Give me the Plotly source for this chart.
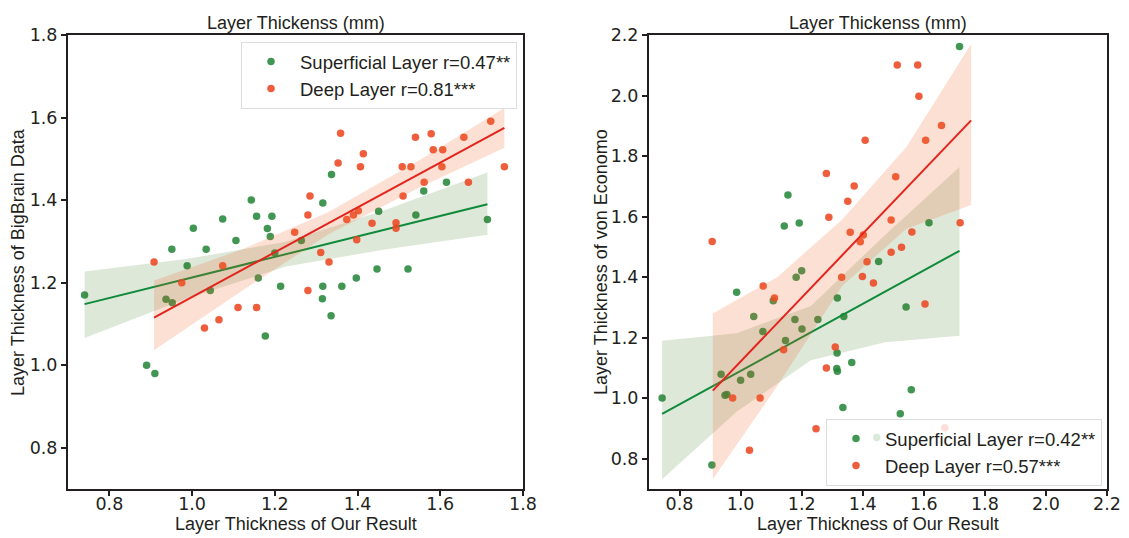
import plotly.graph_objects as go

# ---------------- data ----------------
L_sup_x = [0.74, 0.89, 0.91, 0.937, 0.951, 0.952, 0.988, 1.003, 1.034, 1.044, 1.074, 1.106,
           1.143, 1.156, 1.16, 1.177, 1.182, 1.189, 1.193, 1.2, 1.214, 1.264, 1.315, 1.316,
           1.316, 1.336, 1.337, 1.362, 1.397, 1.447, 1.451, 1.522, 1.541, 1.56, 1.615, 1.714]
L_sup_y = [1.17, 1.00, 0.98, 1.16, 1.281, 1.151, 1.241, 1.332, 1.281, 1.181, 1.354, 1.302,
           1.40, 1.361, 1.211, 1.071, 1.331, 1.312, 1.361, 1.272, 1.191, 1.302, 1.161, 1.191,
           1.393, 1.12, 1.462, 1.191, 1.211, 1.233, 1.373, 1.233, 1.364, 1.422, 1.443, 1.353]

L_deep_x = [0.908, 0.975, 1.03, 1.065, 1.074, 1.111, 1.156, 1.248, 1.28, 1.28, 1.285, 1.311,
            1.331, 1.353, 1.359, 1.374, 1.39, 1.398, 1.402, 1.407, 1.414, 1.435, 1.493, 1.493,
            1.508, 1.51, 1.529, 1.54, 1.561, 1.578, 1.583, 1.604, 1.606, 1.657, 1.668, 1.722, 1.755]
L_deep_y = [1.25, 1.20, 1.09, 1.11, 1.241, 1.14, 1.14, 1.322, 1.181, 1.364, 1.41, 1.273,
            1.25, 1.49, 1.562, 1.353, 1.364, 1.304, 1.374, 1.481, 1.512, 1.344, 1.345, 1.332,
            1.481, 1.41, 1.481, 1.552, 1.443, 1.561, 1.522, 1.481, 1.522, 1.552, 1.443, 1.591, 1.481]

R_sup_x = [0.743, 0.906, 0.936, 0.949, 0.955, 0.987, 1.0, 1.033, 1.043, 1.073, 1.107, 1.143,
           1.147, 1.155, 1.178, 1.182, 1.192, 1.20, 1.201, 1.253, 1.315, 1.316, 1.317, 1.317,
           1.335, 1.338, 1.364, 1.446, 1.452, 1.523, 1.542, 1.559, 1.617, 1.717]
R_sup_y = [1.001, 0.779, 1.079, 1.01, 1.012, 1.35, 1.059, 1.079, 1.27, 1.22, 1.322, 1.569,
           1.191, 1.671, 1.26, 1.40, 1.579, 1.421, 1.229, 1.26, 1.098, 1.149, 1.089, 1.331,
           0.969, 1.27, 1.118, 0.870, 1.452, 0.949, 1.301, 1.028, 1.58, 2.162]

R_deep_x = [0.907, 0.974, 1.029, 1.064, 1.074, 1.111, 1.141, 1.247, 1.281, 1.281, 1.289, 1.31,
            1.331, 1.351, 1.359, 1.372, 1.392, 1.399, 1.402, 1.408, 1.414, 1.435, 1.493, 1.493,
            1.508, 1.513, 1.527, 1.561, 1.58, 1.584, 1.604, 1.606, 1.658, 1.669, 1.719]
R_deep_y = [1.518, 1.001, 0.828, 1.001, 1.371, 1.331, 1.16, 0.899, 1.10, 1.742, 1.598, 1.169,
            1.40, 1.651, 1.548, 1.701, 1.517, 1.402, 1.539, 1.852, 1.451, 1.381, 1.589, 1.482,
            1.732, 2.101, 1.499, 1.549, 2.101, 1.998, 1.311, 1.852, 1.901, 0.902, 1.58]

# regression lines and confidence bands at five x positions
L_sup_fit_x = [0.74, 0.985, 1.227, 1.47, 1.714]
L_sup_fit_y = [1.148, 1.209, 1.269, 1.329, 1.390]
L_sup_lo = [1.066, 1.161, 1.239, 1.281, 1.316]
L_sup_hi = [1.227, 1.257, 1.299, 1.377, 1.467]

L_deep_fit_x = [0.908, 1.12, 1.33, 1.545, 1.755]
L_deep_fit_y = [1.115, 1.230, 1.344, 1.461, 1.575]
L_deep_lo = [1.036, 1.180, 1.317, 1.428, 1.527]
L_deep_hi = [1.205, 1.280, 1.371, 1.494, 1.623]

R_sup_fit_x = [0.743, 0.987, 1.23, 1.474, 1.717]
R_sup_fit_y = [0.948, 1.083, 1.217, 1.352, 1.487]
R_sup_lo = [0.732, 0.955, 1.125, 1.185, 1.206]
R_sup_hi = [1.190, 1.215, 1.305, 1.540, 1.764]

R_deep_fit_x = [0.909, 1.12, 1.332, 1.543, 1.755]
R_deep_fit_y = [1.025, 1.248, 1.472, 1.694, 1.918]
R_deep_lo = [0.732, 1.040, 1.370, 1.560, 1.638]
R_deep_hi = [1.280, 1.400, 1.590, 1.830, 2.170]

L_labels = ["Superficial Layer r=0.47**", "Deep Layer r=0.81***"]
R_labels = ["Superficial Layer r=0.42**", "Deep Layer r=0.57***"]
titles = ["Layer Thickenss (mm)", "Layer Thickenss (mm)"]
x_title = "Layer Thickness of Our Result"
y_titles = ["Layer Thickness of BigBrain Data", "Layer Thickness of von Economo"]
L_ticks = [0.8, 1.0, 1.2, 1.4, 1.6, 1.8]
R_ticks = [0.8, 1.0, 1.2, 1.4, 1.6, 1.8, 2.0, 2.2]

# ---------------- styles ----------------
FONT = "Liberation Sans, Arial, sans-serif"
TICKFONT = "DejaVu Sans, sans-serif"
TXT = "#231f20"
G_DOT = "rgba(40,135,60,0.88)"
R_DOT = "rgba(236,72,34,0.88)"
G_LINE = "#0f8a3a"
R_LINE = "#e3241c"
G_BAND = "rgba(60,120,30,0.17)"
R_BAND = "rgba(240,100,40,0.20)"

fig = go.Figure()


def add_group(x, y, fx, fy, lo, hi, name, dot, line, band, xa, ya, legend):
    fig.add_trace(go.Scatter(x=x, y=y, mode="markers", name=name,
                             marker=dict(color=dot, size=7.5, line=dict(width=0)),
                             xaxis=xa, yaxis=ya, legend=legend))
    fig.add_trace(go.Scatter(x=list(fx) + list(fx)[::-1],
                             y=list(hi) + list(lo)[::-1],
                             fill="toself", fillcolor=band, line=dict(width=0),
                             mode="lines", hoverinfo="skip", showlegend=False,
                             xaxis=xa, yaxis=ya))
    fig.add_trace(go.Scatter(x=fx, y=fy, mode="lines", line=dict(color=line, width=2),
                             showlegend=False, xaxis=xa, yaxis=ya))


add_group(L_sup_x, L_sup_y, L_sup_fit_x, L_sup_fit_y, L_sup_lo, L_sup_hi,
          L_labels[0], G_DOT, G_LINE, G_BAND, "x", "y", "legend")
add_group(L_deep_x, L_deep_y, L_deep_fit_x, L_deep_fit_y, L_deep_lo, L_deep_hi,
          L_labels[1], R_DOT, R_LINE, R_BAND, "x", "y", "legend")
add_group(R_sup_x, R_sup_y, R_sup_fit_x, R_sup_fit_y, R_sup_lo, R_sup_hi,
          R_labels[0], G_DOT, G_LINE, G_BAND, "x2", "y2", "legend2")
add_group(R_deep_x, R_deep_y, R_deep_fit_x, R_deep_fit_y, R_deep_lo, R_deep_hi,
          R_labels[1], R_DOT, R_LINE, R_BAND, "x2", "y2", "legend2")

W, H = 1129, 538
Lx = [68 / W, 523 / W]
Rx = [649 / W, 1107 / W]
Yd = [(H - 489) / H, (H - 35) / H]

axis_common = dict(showline=True, linecolor=TXT, linewidth=2, mirror=True,
                   ticks="outside", ticklen=5, tickwidth=1.5, tickcolor=TXT,
                   showgrid=False, zeroline=False, automargin=False,
                   tickfont=dict(family=TICKFONT, size=17.5, color=TXT),
                   tickformat=".1f")

legend_common = dict(xanchor="left", yanchor="top",
                     bgcolor="rgba(255,255,255,0.8)", bordercolor="#dddddd", borderwidth=1,
                     font=dict(family=FONT, size=18.5, color=TXT), itemsizing="trace",
                     itemwidth=48, tracegroupgap=0)

fig.update_layout(
    width=W, height=H,
    margin=dict(l=0, r=0, t=0, b=0),
    paper_bgcolor="white", plot_bgcolor="white",
    font=dict(family=FONT, color=TXT),
    xaxis=dict(domain=Lx, range=[0.70, 1.80], tickvals=L_ticks, anchor="y",
               ticklabelstandoff=-7, **axis_common),
    yaxis=dict(domain=Yd, range=[0.70, 1.80], tickvals=L_ticks, anchor="x", **axis_common),
    xaxis2=dict(domain=Rx, range=[0.70, 2.20], tickvals=R_ticks, anchor="y2",
                ticklabelstandoff=-7, **axis_common),
    yaxis2=dict(domain=Yd, range=[0.70, 2.20], tickvals=R_ticks, anchor="x2", **axis_common),
    legend=dict(x=241 / W, y=(H - 42) / H, **legend_common),
    legend2=dict(x=826 / W, y=(H - 419) / H, **legend_common),
    showlegend=True,
)

# panel titles
for xd, t in [(Lx, titles[0]), (Rx, titles[1])]:
    fig.add_annotation(x=(xd[0] + xd[1]) / 2, y=(H - 23) / H, xref="paper", yref="paper",
                       text=t, showarrow=False, xanchor="center", yanchor="middle",
                       font=dict(family=FONT, size=18, color=TXT))
# x-axis titles
for xd in (Lx, Rx):
    fig.add_annotation(x=(xd[0] + xd[1]) / 2, y=(H - 524) / H, xref="paper", yref="paper",
                       text=x_title, showarrow=False, xanchor="center", yanchor="middle",
                       font=dict(family=FONT, size=18, color=TXT))
# y-axis titles
for xp, t in [(18, y_titles[0]), (601, y_titles[1])]:
    fig.add_annotation(x=xp / W, y=(Yd[0] + Yd[1]) / 2, xref="paper", yref="paper",
                       text=t, showarrow=False, textangle=-90,
                       xanchor="center", yanchor="middle",
                       font=dict(family=FONT, size=18, color=TXT))

fig.write_html("out.html",
               config={"displayModeBar": False},
               post_script="document.body.style.margin='0';"
                           "document.body.style.overflow='hidden';")
